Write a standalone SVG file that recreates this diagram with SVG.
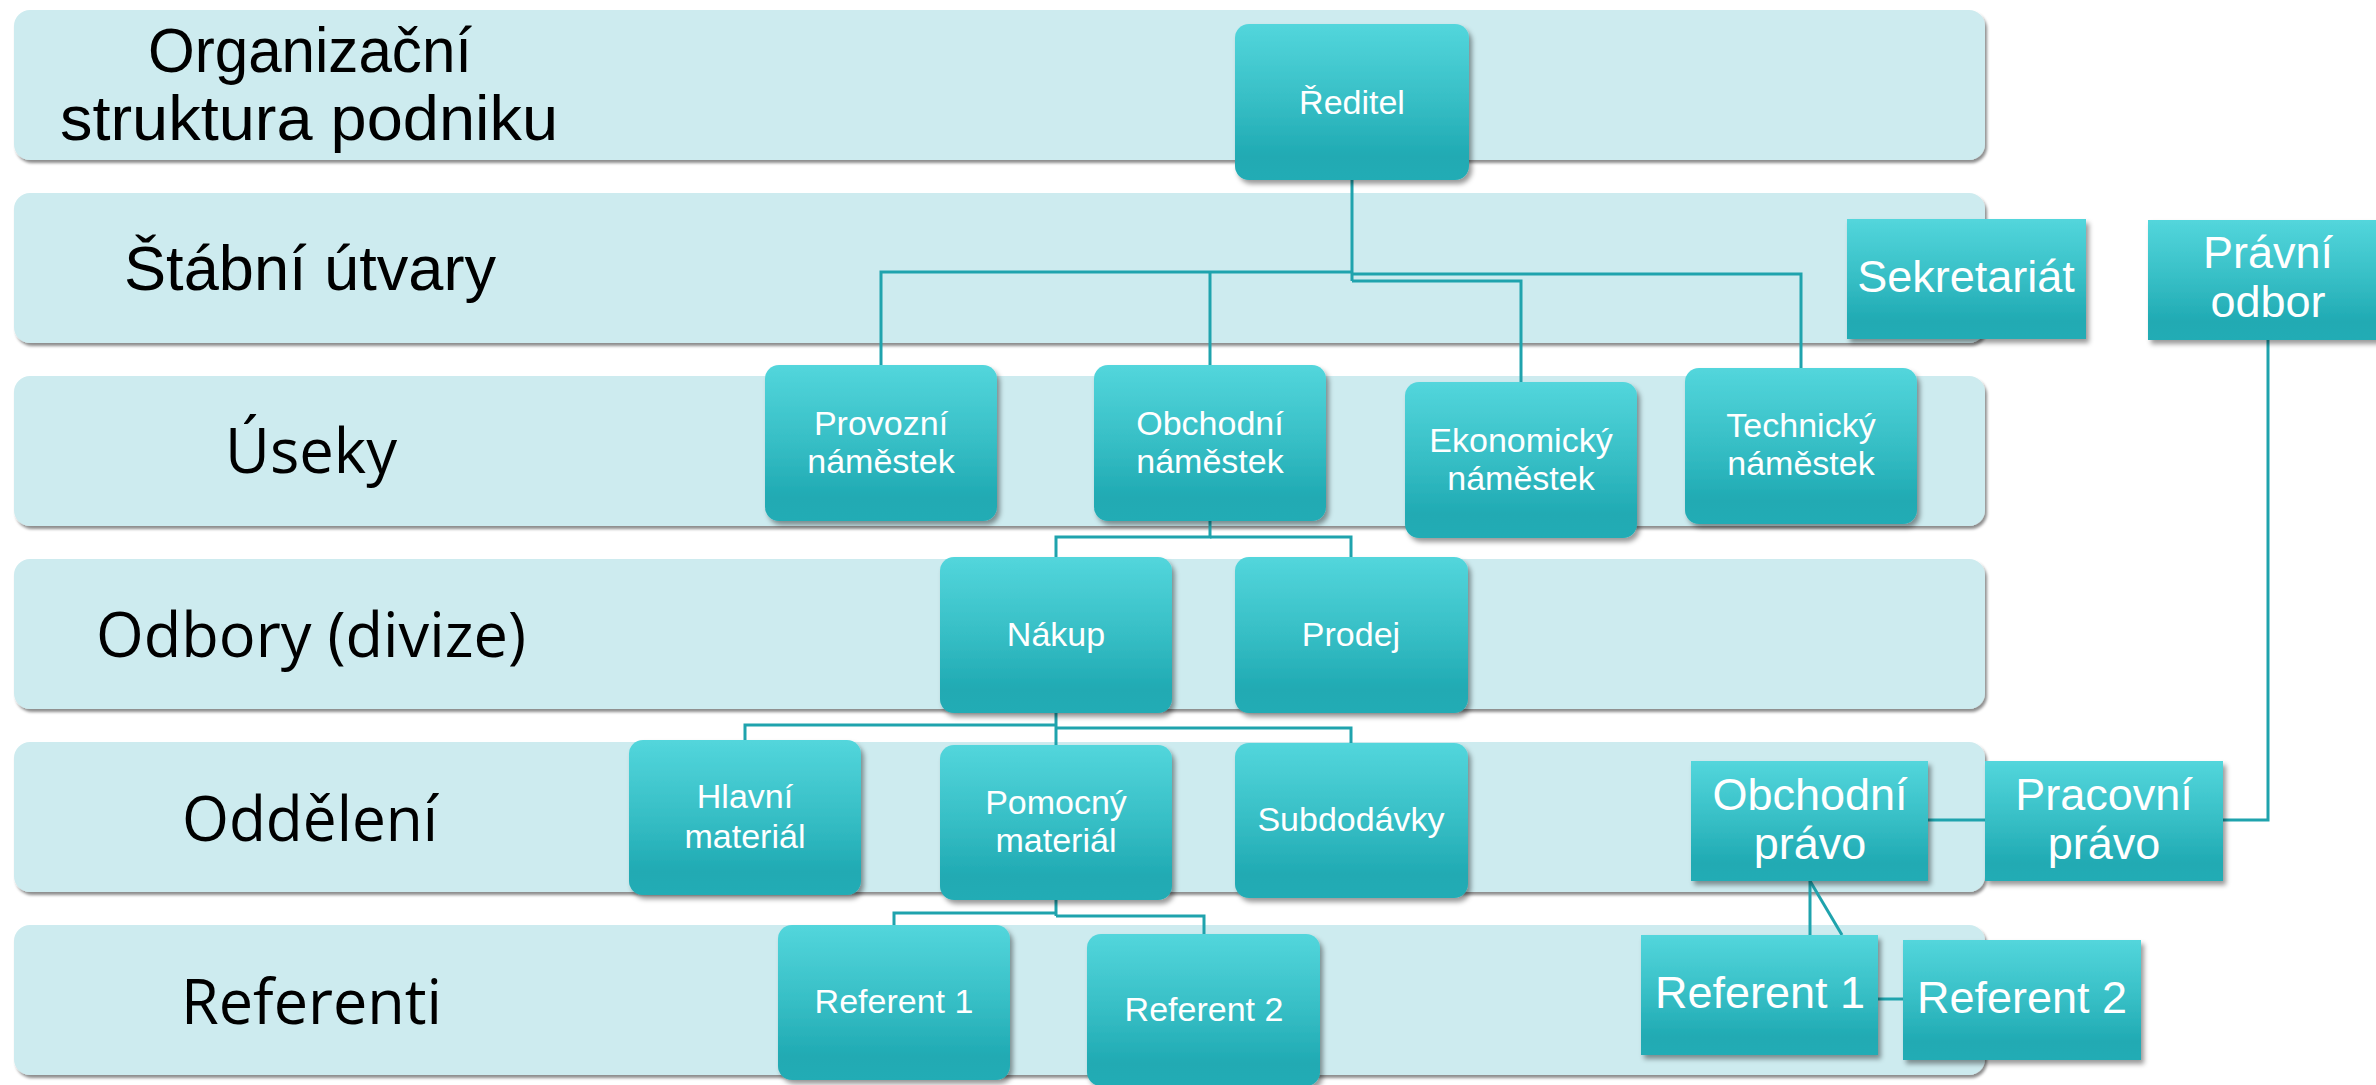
<svg xmlns="http://www.w3.org/2000/svg" width="2376" height="1085" viewBox="0 0 2376 1085">
<defs>
<linearGradient id="g" x1="0" y1="0" x2="0" y2="1">
<stop offset="0" stop-color="#53D6DC"/>
<stop offset="0.5" stop-color="#36BEC5"/>
<stop offset="0.85" stop-color="#20AAB3"/>
<stop offset="1" stop-color="#22ACB5"/>
</linearGradient>
<filter id="sh" x="-10%" y="-10%" width="130%" height="130%">
<feDropShadow dx="3" dy="4" stdDeviation="2.5" flood-color="#000" flood-opacity="0.4"/>
</filter>
<filter id="bsh" x="-5%" y="-10%" width="110%" height="130%">
<feDropShadow dx="2" dy="3" stdDeviation="1.5" flood-color="#000" flood-opacity="0.45"/>
</filter>
</defs>
<style>
.band{fill:#CDEBEF;filter:url(#bsh)}
.node{fill:url(#g);filter:url(#sh)}
.lbl{font-family:"Liberation Sans",Arial,sans-serif;font-size:63px;fill:#000}
.lbl2{font-family:"Open Sans","Noto Sans",sans-serif;font-size:62px;fill:#000}
.nt{font-family:"Liberation Sans",Arial,sans-serif;font-size:34px;fill:#fff;text-anchor:middle}
.st{font-family:"Liberation Sans",Arial,sans-serif;font-size:45px;fill:#fff;text-anchor:middle}
.conn path{fill:none;stroke:#1FA3AD;stroke-width:3}
</style>
<rect width="2376" height="1085" fill="#fff"/>
<g id="bands">
<rect class="band" x="14" y="10" width="1971" height="150" rx="16"/>
<rect class="band" x="14" y="193" width="1971" height="150" rx="16"/>
<rect class="band" x="14" y="376" width="1971" height="150" rx="16"/>
<rect class="band" x="14" y="559" width="1971" height="150" rx="16"/>
<rect class="band" x="14" y="742" width="1971" height="150" rx="16"/>
<rect class="band" x="14" y="925" width="1971" height="150" rx="16"/>
</g>
<g id="band-labels">
<text class="lbl" x="148" y="72" textLength="324" lengthAdjust="spacingAndGlyphs">Organizační</text>
<text class="lbl" x="60" y="140" textLength="498" lengthAdjust="spacingAndGlyphs">struktura podniku</text>
<text class="lbl" x="124" y="290" textLength="372" lengthAdjust="spacingAndGlyphs">Štábní útvary</text>
<text class="lbl2" x="225" y="473" textLength="172" lengthAdjust="spacingAndGlyphs">Úseky</text>
<text class="lbl2" x="96" y="657" textLength="430" lengthAdjust="spacingAndGlyphs">Odbory (divize)</text>
<text class="lbl2" x="182" y="841" textLength="256" lengthAdjust="spacingAndGlyphs">Oddělení</text>
<text class="lbl2" x="181" y="1024" textLength="261" lengthAdjust="spacingAndGlyphs">Referenti</text>
</g>
<g class="conn" id="connectors">
<path d="M1352,180 V281"/>
<path d="M1352,272 H881 V365"/>
<path d="M1210,272 V365"/>
<path d="M1352,274 H1801 V368"/>
<path d="M1352,281 H1521 V382"/>
<path d="M1210,521 V537 H1056 V557"/>
<path d="M1210,537 H1351 V557"/>
<path d="M1056,713 V745"/>
<path d="M1056,725 H745 V740"/>
<path d="M1056,728 H1351 V743"/>
<path d="M1056,900 V916"/>
<path d="M1056,913 H894 V925"/>
<path d="M1056,916 H1204 V934"/>
<path d="M2268,340 V820 H2223"/>
<path d="M1928,820 H1985"/>
<path d="M1810,881 V935"/>
<path d="M1810,881 L1842,935"/>
<path d="M1878,999 H1903"/>
</g>
<g id="reditel"><rect class="node" x="1235" y="24" width="234" height="156" rx="14"/><text class="nt" x="1352" y="114">Ředitel</text></g>
<g id="provozni"><rect class="node" x="765" y="365" width="232" height="156" rx="14"/><text class="nt" x="881" y="435">Provozní</text><text class="nt" x="881" y="473">náměstek</text></g>
<g id="obchodni"><rect class="node" x="1094" y="365" width="232" height="156" rx="14"/><text class="nt" x="1210" y="435">Obchodní</text><text class="nt" x="1210" y="473">náměstek</text></g>
<g id="ekonomicky"><rect class="node" x="1405" y="382" width="232" height="156" rx="14"/><text class="nt" x="1521" y="452">Ekonomický</text><text class="nt" x="1521" y="490">náměstek</text></g>
<g id="technicky"><rect class="node" x="1685" y="368" width="232" height="156" rx="14"/><text class="nt" x="1801" y="437">Technický</text><text class="nt" x="1801" y="475">náměstek</text></g>
<g id="sekretariat"><rect class="node" x="1847" y="219" width="239" height="120"/><text class="st" x="1966" y="292">Sekretariát</text></g>
<g id="pravni-odbor"><rect class="node" x="2148" y="220" width="240" height="120"/><text class="st" x="2268" y="268">Právní</text><text class="st" x="2268" y="317">odbor</text></g>
<g id="nakup"><rect class="node" x="940" y="557" width="232" height="156" rx="14"/><text class="nt" x="1056" y="646">Nákup</text></g>
<g id="prodej"><rect class="node" x="1235" y="557" width="233" height="156" rx="14"/><text class="nt" x="1351" y="646">Prodej</text></g>
<g id="hlavni"><rect class="node" x="629" y="740" width="232" height="155" rx="14"/><text class="nt" x="745" y="808">Hlavní</text><text class="nt" x="745" y="848">materiál</text></g>
<g id="pomocny"><rect class="node" x="940" y="745" width="232" height="155" rx="14"/><text class="nt" x="1056" y="814">Pomocný</text><text class="nt" x="1056" y="852">materiál</text></g>
<g id="subdodavky"><rect class="node" x="1235" y="743" width="233" height="155" rx="14"/><text class="nt" x="1351" y="831">Subdodávky</text></g>
<g id="obchodni-pravo"><rect class="node" x="1691" y="761" width="237" height="120"/><text class="st" x="1810" y="810">Obchodní</text><text class="st" x="1810" y="859">právo</text></g>
<g id="pracovni-pravo"><rect class="node" x="1985" y="761" width="238" height="120"/><text class="st" x="2104" y="810">Pracovní</text><text class="st" x="2104" y="859">právo</text></g>
<g id="referent1"><rect class="node" x="778" y="925" width="232" height="155" rx="14"/><text class="nt" x="894" y="1013">Referent 1</text></g>
<g id="referent2"><rect class="node" x="1087" y="934" width="233" height="152" rx="14"/><text class="nt" x="1204" y="1021">Referent 2</text></g>
<g id="referent1-pravo"><rect class="node" x="1641" y="935" width="237" height="120"/><text class="st" x="1760" y="1008">Referent 1</text></g>
<g id="referent2-pravo"><rect class="node" x="1903" y="940" width="238" height="120"/><text class="st" x="2022" y="1013">Referent 2</text></g>
</svg>
